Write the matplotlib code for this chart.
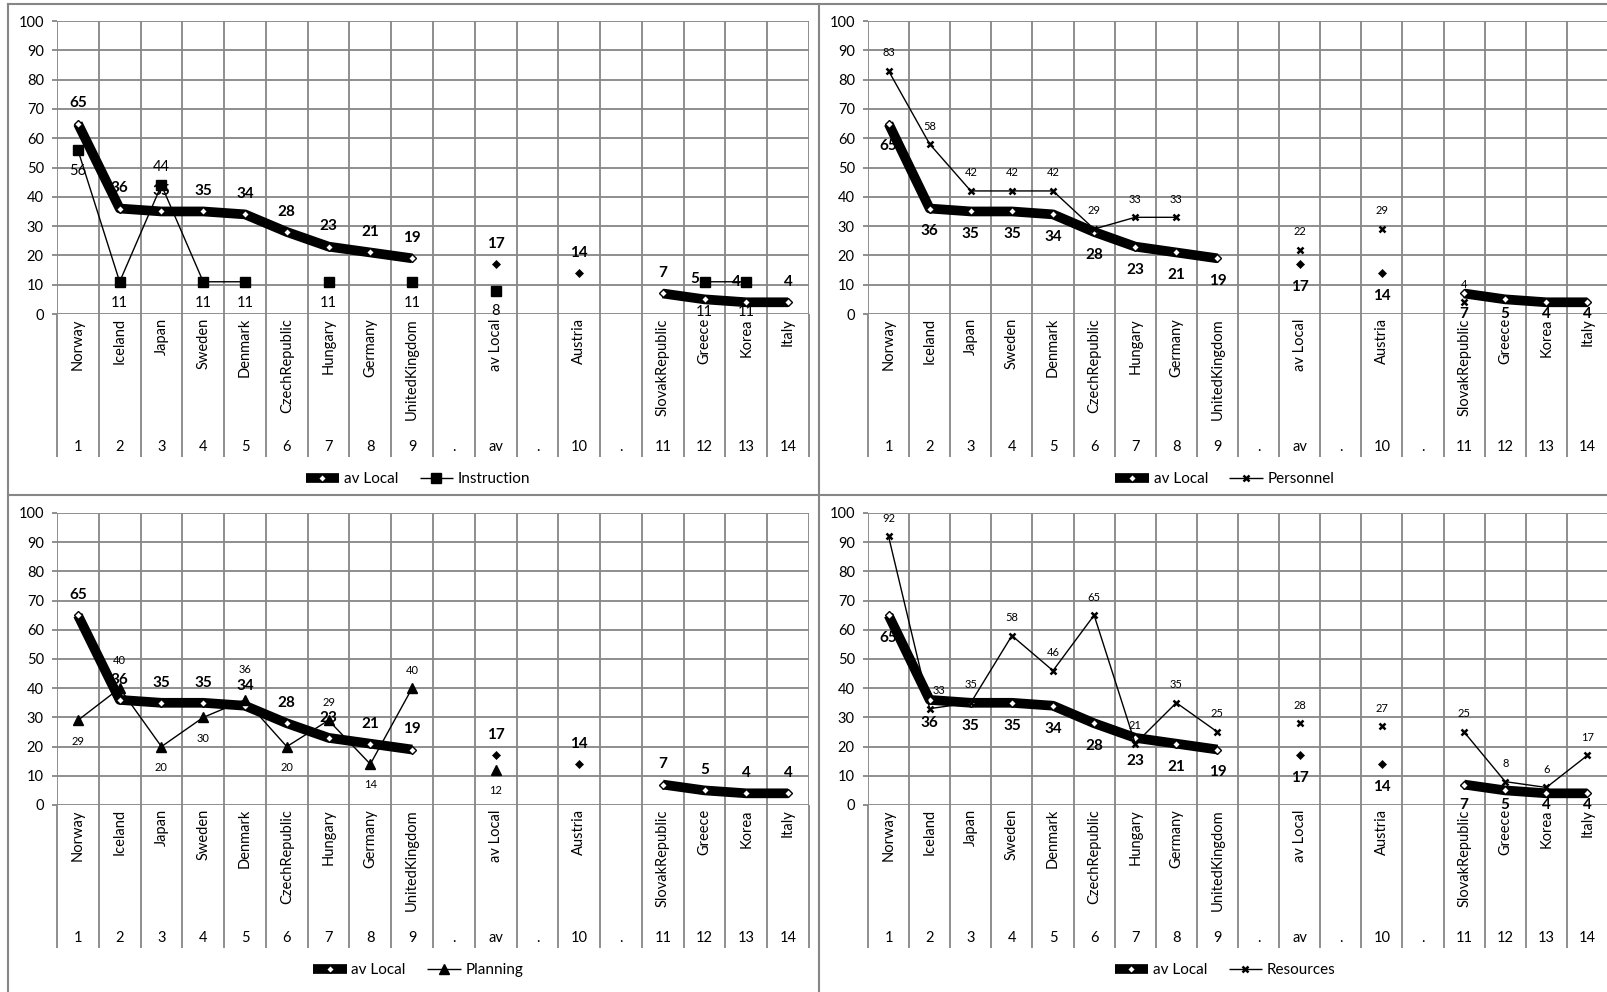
import matplotlib
matplotlib.use('Agg')
import matplotlib.pyplot as plt
import numpy as np
from matplotlib.lines import Line2D

plt.rcParams['font.family'] = ['Lato', 'DejaVu Sans']

nan = np.nan
categories = ["Norway", "Iceland", "Japan", "Sweden", "Denmark", "CzechRepublic", "Hungary",
              "Germany", "UnitedKingdom", "", "av Local", "", "Austria", "", "SlovakRepublic",
              "Greece", "Korea", "Italy"]
rank_labels = ["1", "2", "3", "4", "5", "6", "7", "8", "9", ".", "av", ".", "10", ".",
               "11", "12", "13", "14"]
av_local = [65, 36, 35, 35, 34, 28, 23, 21, 19, nan, 17, nan, 14, nan, 7, 5, 4, 4]
instruction = [56, 11, 44, 11, 11, nan, 11, nan, 11, nan, 8, nan, nan, nan, nan, 11, 11, nan]
personnel = [83, 58, 42, 42, 42, 29, 33, 33, nan, nan, 22, nan, 29, nan, 4, nan, nan, nan]
planning = [29, 40, 20, 30, 36, 20, 29, 14, 40, nan, 12, nan, nan, nan, nan, nan, nan, nan]
resources = [92, 33, 35, 58, 46, 65, 21, 35, 25, nan, 28, nan, 27, nan, 25, 8, 6, 17]
y_ticks = list(range(0, 101, 10))

# label placement (a = above, b = below)
instr_pos = ['b', 'b', 'a', 'b', 'b', 'b', 'b', 'b', 'b', 'b', 'b', 'b', 'b', 'b', 'b', 'b', 'b', 'b']
plan_pos = ['b', 'a', 'b', 'b', 'a', 'b', 'a', 'b', 'a', 'b', 'b', 'b', 'b', 'b', 'b', 'b', 'b', 'b']
all_above = ['a'] * 18

W, H = 1607, 992
GRID = '#868686'
fig = plt.figure(figsize=(W / 100, H / 100), dpi=100)


def rect(x0, y0, x1, y1):
    return [x0 / W, 1 - y1 / H, (x1 - x0) / W, (y1 - y0) / H]


def px2pt(p):
    return p * 0.72


panels = [
    dict(r=rect(57, 21, 809, 314), data=instruction, name="Instruction", marker='s', ms=7, mew=1,
         pos=instr_pos, lsize=10.5, av_pos='a', leg=(418, 479),
         av_nudge={15: (-7, 0), 16: (-7, 0)}, ser_nudge={15: (0, -7), 16: (0, -7)}),
    dict(r=rect(868, 21, 1608, 314), data=personnel, name="Personnel", marker='x', ms=5, mew=1.8,
         pos=all_above, lsize=8, av_pos='b', leg=(1225, 479), av_nudge={}, ser_nudge={}),
    dict(r=rect(57, 513, 809, 805), data=planning, name="Planning", marker='^', ms=7.5, mew=1,
         pos=plan_pos, lsize=8, av_pos='a', leg=(418, 970), av_nudge={},
         ser_nudge={1: (0, 7), 4: (0, 9)}),
    dict(r=rect(868, 513, 1608, 805), data=resources, name="Resources", marker='x', ms=5, mew=1.8,
         pos=all_above, lsize=8, av_pos='b', leg=(1225, 970), av_nudge={}, ser_nudge={1: (7, 0)}),
]

x = np.arange(len(categories)) + 0.5

for p in panels:
    ax = fig.add_axes(p['r'])
    ax.set_xlim(0, len(categories))
    ax.set_ylim(0, 100)
    ax_h_px = p['r'][3] * H
    ppu = ax_h_px / 100.0
    for s in ax.spines.values():
        s.set_visible(False)
    ax.set_yticks(y_ticks)
    ax.set_yticklabels([str(v) for v in y_ticks], fontsize=10.5)
    ax.tick_params(axis='y', length=3.5, color=GRID, width=1.3, pad=6)
    ax.set_xticks(np.arange(0, len(categories) + 1))
    ax.set_xticklabels([])
    ax.tick_params(axis='x', which='major', length=px2pt(143), color=GRID, width=1.3, direction='out')
    ax.set_xticks(x, minor=True)
    ax.set_xticklabels(categories, minor=True, rotation=90, fontsize=10.5, va='top', ha='center')
    ax.tick_params(axis='x', which='minor', length=0, pad=3)
    ax.grid(True, which='major', color=GRID, linewidth=1.3)
    ax.set_axisbelow(True)

    for xi, lab in zip(x, rank_labels):
        ax.annotate(lab, xy=(xi, 0), xycoords=('data', 'axes fraction'),
                    xytext=(0, -px2pt(133)), textcoords='offset points',
                    ha='center', va='center', fontsize=10.5, annotation_clip=False)

    av = np.array(av_local, dtype=float)
    ax.plot(x, av, color='black', lw=7, solid_joinstyle='round', solid_capstyle='butt', zorder=3)
    iso = np.array([not np.isnan(av[i]) and (i == 0 or np.isnan(av[i - 1])) and
                    (i == len(av) - 1 or np.isnan(av[i + 1])) for i in range(len(av))])
    conn = ~np.isnan(av) & ~iso
    ax.plot(x[conn], av[conn], ls='none', marker='D', ms=4.5, mfc='white', mec='black', mew=1, zorder=4)
    ax.plot(x[iso], av[iso], ls='none', marker='D', ms=4, mfc='black', mec='black', mew=0.5, zorder=4)

    ser = np.array(p['data'], dtype=float)
    ax.plot(x, ser, color='black', lw=1, marker=p['marker'], ms=p['ms'], mfc='black', mec='black',
            mew=p['mew'], zorder=5)

    for i, (xi, v) in enumerate(zip(x, av)):
        if np.isnan(v):
            continue
        if p['av_pos'] == 'a':
            dy = 14.5
        else:
            dy = max(-16.5, -px2pt(v * ppu))
        ndx, ndy = p['av_nudge'].get(i, (0, 0))
        ax.annotate(f"{v:.0f}", xy=(xi, v), xytext=(ndx, dy + ndy),
                    textcoords='offset points', ha='center', va='center', fontsize=11,
                    fontweight='bold', zorder=6, annotation_clip=False)
    for i, (xi, v, pp) in enumerate(zip(x, ser, p['pos'])):
        if np.isnan(v):
            continue
        dy = 13 if pp == 'a' else max(-15, -px2pt(v * ppu))
        ndx, ndy = p['ser_nudge'].get(i, (0, 0))
        ax.annotate(f"{v:.0f}", xy=(xi, v), xytext=(ndx, dy + ndy),
                    textcoords='offset points', ha='center', va='center', fontsize=p['lsize'],
                    zorder=6, annotation_clip=False)

    h1 = Line2D([], [], color='black', lw=7, marker='D', ms=4.5, mfc='white', mec='black',
                solid_capstyle='butt')
    h2 = Line2D([], [], color='black', lw=1, marker=p['marker'], ms=p['ms'], mfc='black',
                mec='black', mew=p['mew'], solid_capstyle='butt')
    lx, ly = p['leg']
    fig.legend([h1, h2], ["av Local", p['name']], loc='center', bbox_to_anchor=(lx / W, 1 - ly / H),
               ncol=2, frameon=False, fontsize=11, handlelength=2.2, handletextpad=0.3,
               columnspacing=1.4, borderaxespad=0)

# panel borders
for (x0, y0, x1, y1) in [(8, 4, 1607, 4), (8, 4, 8, 992), (819, 4, 819, 992), (8, 495, 1607, 495)]:
    fig.add_artist(Line2D([x0 / W, x1 / W], [1 - y0 / H, 1 - y1 / H], transform=fig.transFigure,
                          color=GRID, lw=1.5))

fig.savefig('out.png', dpi=100)
